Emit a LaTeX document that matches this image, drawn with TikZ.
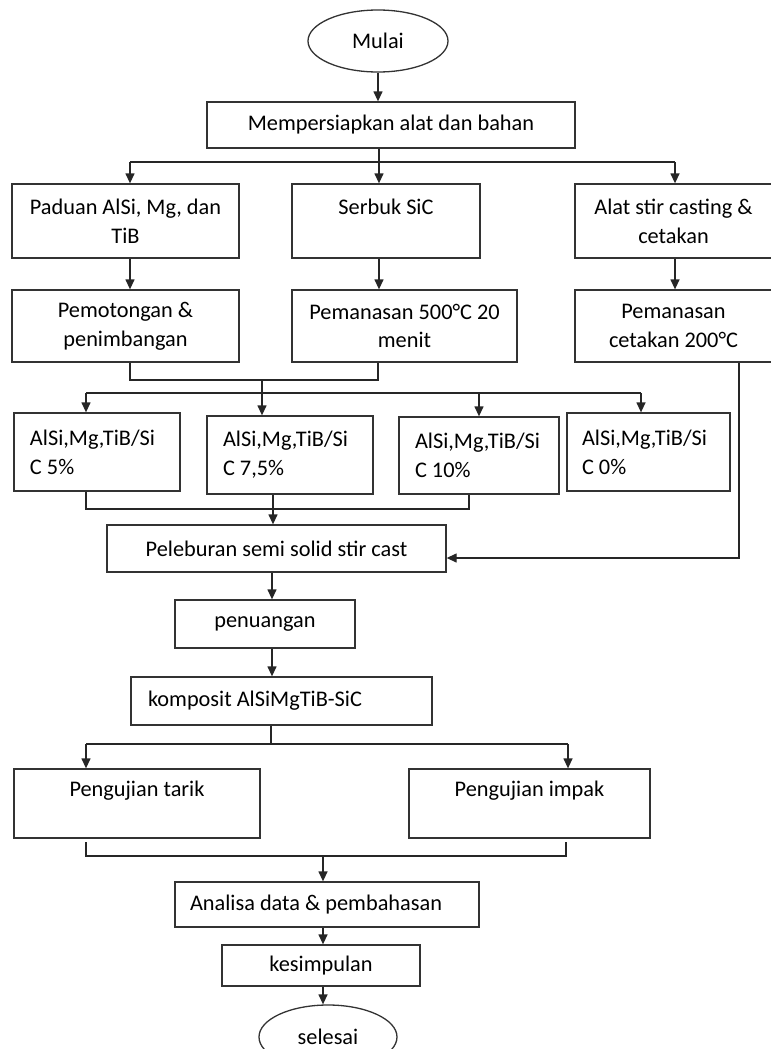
\documentclass[tikz,border=0pt]{standalone}
\usepackage{fontspec}
\setmainfont{Carlito}
\usetikzlibrary{arrows.meta,shapes.geometric}
\newcommand{\fbody}{\fontsize{22.4}{29}\selectfont}
\begin{document}
\begin{tikzpicture}[x=1bp,y=-1bp,
  line/.style={line width=1.3bp, draw=black!85},
  arr/.style={line, -{Triangle[length=10bp,width=9bp]}},
  box/.style={draw=black!80, line width=1.3bp, rectangle, inner sep=0pt, align=center, font=\fbody},
  lbox/.style={box, align=flush left},
  oval/.style={draw=black!80, line width=1.3bp, ellipse, inner sep=0pt, font=\fbody}]
\useasboundingbox (0,0) rectangle (771,1049);
% nodes
\node[oval, minimum width=140bp, minimum height=62bp] (mulai) at (378,41) {Mulai};
\node[box, minimum width=368bp, minimum height=46bp] (prep) at (391,125) {Mempersiapkan alat dan bahan};
\node[box, minimum width=227bp, minimum height=74bp] (paduan) at (125.5,221) {Paduan AlSi, Mg, dan\\TiB};
\node[box, minimum width=188bp, minimum height=74bp] (serbuk) at (386,221) {Serbuk SiC\\\mbox{}};
\node[box, minimum width=197bp, minimum height=74bp] (alat) at (673.5,221) {Alat stir casting \&\\cetakan};
\node[box, minimum width=227bp, minimum height=72bp] (potong) at (125.5,326) {Pemotongan \&\\penimbangan};
\node[box, minimum width=225bp, minimum height=72bp] (panasA) at (404.5,326) {Pemanasan 500°C 20\\menit};
\node[box, minimum width=197bp, minimum height=72bp] (panasB) at (673.5,326) {Pemanasan\\cetakan 200°C};
\node[lbox, text width=134bp, inner xsep=16bp, minimum height=78bp] (c1) at (97,452) {AlSi,Mg,TiB/Si\\C 5\%};
\node[lbox, text width=134bp, inner xsep=16bp, minimum height=78bp] (c2) at (290,455) {AlSi,Mg,TiB/Si\\C 7,5\%};
\node[lbox, text width=128bp, inner xsep=16bp, minimum height=77bp] (c3) at (479,455.5) {AlSi,Mg,TiB/Si\\C 10\%};
\node[lbox, text width=133bp, inner xsep=15bp, minimum height=78bp] (c4) at (648.5,452) {AlSi,Mg,TiB/Si\\C 0\%};
\node[box, minimum width=339bp, minimum height=47bp] (lebur) at (276.5,548.5) {Peleburan semi solid stir cast};
\node[box, minimum width=180bp, minimum height=48bp] (tuang) at (265,624) {penuangan};
\node[lbox, text width=267bp, inner xsep=17bp, minimum height=48bp] (komposit) at (281.5,701) {komposit AlSiMgTiB-SiC};
\node[box, minimum width=246bp, minimum height=69bp] (tarik) at (137,803.5) {Pengujian tarik\\\mbox{}};
\node[box, minimum width=241bp, minimum height=69bp] (impak) at (529.5,803.5) {Pengujian impak\\\mbox{}};
\node[lbox, text width=274bp, inner xsep=15bp, minimum height=45bp] (analisa) at (327,904.5) {Analisa data \& pembahasan};
\node[box, minimum width=198bp, minimum height=41bp] (simpul) at (321,965.5) {kesimpulan};
\node[oval, minimum width=138bp, minimum height=64bp] (selesai) at (328,1037) {selesai};
% connectors
\draw[arr] (mulai.south) -- (mulai.south |- prep.north);
\coordinate (br1) at (379,162);
\coordinate (br1L) at (130,162);
\coordinate (br1R) at (675,162);
\draw[line] (br1 |- prep.south) -- (br1);
\draw[line] (br1L) -- (br1R);
\draw[arr] (br1L) -- (br1L |- paduan.north);
\draw[arr] (br1) -- (br1 |- serbuk.north);
\draw[arr] (br1R) -- (br1R |- alat.north);
\draw[arr] (br1L |- paduan.south) -- (br1L |- potong.north);
\draw[arr] (br1 |- serbuk.south) -- (br1 |- panasA.north);
\draw[arr] (br1R |- alat.south) -- (br1R |- panasB.north);
\coordinate (j1L) at (130,380);
\coordinate (j1R) at (378,380);
\coordinate (j1) at (262,380);
\draw[line] (j1L |- potong.south) -- (j1L) -- (j1R) -- (j1R |- panasA.south);
\coordinate (br2L) at (86,393);
\coordinate (br2c) at (479,393);
\coordinate (br2R) at (641,393);
\draw[line] (br2L) -- (br2R);
\draw[arr] (j1) -- (j1 |- c2.north);
\draw[arr] (br2L) -- (br2L |- c1.north);
\draw[arr] (br2c) -- (br2c |- c3.north);
\draw[arr] (br2R) -- (br2R |- c4.north);
\coordinate (j2L) at (86,509);
\coordinate (j2R) at (469,509);
\draw[line] (j2L |- c1.south) -- (j2L) -- (j2R) -- (j2R |- c3.south);
\coordinate (s2) at (273,509);
\draw[arr] (s2 |- c2.south) -- (s2 |- lebur.north);
\coordinate (rt) at (739,558);
\draw[arr] (rt |- panasB.south) -- (rt) -- (lebur.east |- rt);
\coordinate (s3) at (272,600);
\draw[arr] (s3 |- lebur.south) -- (s3 |- tuang.north);
\draw[arr] (s3 |- tuang.south) -- (s3 |- komposit.north);
\coordinate (br3) at (271,744);
\coordinate (br3L) at (86,744);
\coordinate (br3R) at (568,744);
\draw[line] (br3 |- komposit.south) -- (br3);
\draw[line] (br3L) -- (br3R);
\draw[arr] (br3L) -- (br3L |- tarik.north);
\draw[arr] (br3R) -- (br3R |- impak.north);
\coordinate (t1) at (86,842);
\coordinate (t2) at (566,842);
\coordinate (j3L) at (86,856);
\coordinate (j3R) at (566,856);
\coordinate (j3) at (323,856);
\draw[line] (t1) -- (j3L) -- (j3R) -- (t2);
\draw[arr] (j3) -- (j3 |- analisa.north);
\coordinate (s4) at (323,930);
\draw[arr] (s4 |- analisa.south) -- (s4 |- simpul.north);
\draw[arr] (s4 |- simpul.south) -- (s4 |- selesai.north);
\end{tikzpicture}
\end{document}
